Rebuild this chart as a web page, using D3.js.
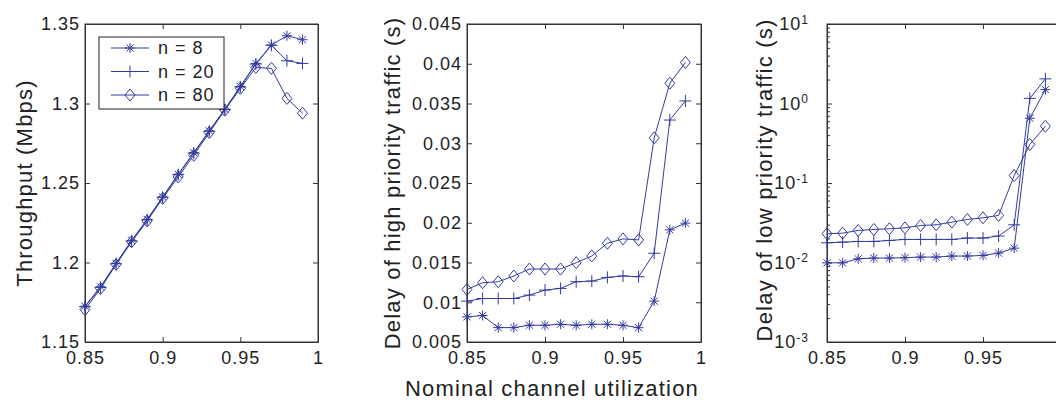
<!DOCTYPE html>
<html>
<head>
<meta charset="utf-8">
<script src="https://cdn.jsdelivr.net/npm/d3@7"></script>
<style>
  body { margin: 0; background: #fff; }
  svg { display: block; font-family: "Liberation Sans", Arial, sans-serif; }
  .tick text { fill: #222; font-size: 18px; letter-spacing: 1px; }
  .axis path, .axis line { stroke: #333; }
  .label { fill: #222; font-size: 22px; letter-spacing: 1.2px; }
</style>
</head>
<body>
<svg id="chart" width="1056" height="401"></svg>
<script>
'use strict';

// nominal channel utilization
var utilization = [0.85, 0.86, 0.87, 0.88, 0.89, 0.9, 0.91, 0.92, 0.93, 0.94, 0.95, 0.96, 0.97, 0.98, 0.99];
var seriesNames = ['n = 8', 'n = 20', 'n = 80'];

// throughput (Mbps)
var throughputN8  = [1.1725, 1.1847, 1.1994, 1.2139, 1.2271, 1.2412, 1.2555, 1.2691, 1.2828, 1.2964, 1.3107, 1.3252, 1.3368, 1.3426, 1.3401];
var throughputN20 = [1.1722, 1.1843, 1.1992, 1.2135, 1.2268, 1.2410, 1.2552, 1.2688, 1.2825, 1.2962, 1.3104, 1.3248, 1.3366, 1.3269, 1.3252];
var throughputN80 = [1.1704, 1.1836, 1.1987, 1.2130, 1.2261, 1.2403, 1.2538, 1.2674, 1.2817, 1.2958, 1.3095, 1.3227, 1.3221, 1.3032, 1.2939];

// delay of high priority traffic (s)
var highDelayN8  = [0.00816, 0.00833, 0.00681, 0.00681, 0.00711, 0.0071, 0.00723, 0.0071, 0.00723, 0.00723, 0.0071, 0.0068, 0.01014, 0.0191, 0.01995];
var highDelayN20 = [0.01014, 0.01047, 0.01047, 0.01047, 0.0109, 0.01153, 0.01174, 0.01258, 0.01266, 0.01313, 0.0133, 0.01321, 0.01616, 0.03292, 0.03532];
var highDelayN80 = [0.01161, 0.01245, 0.01258, 0.0133, 0.01418, 0.01418, 0.01418, 0.01498, 0.01582, 0.01742, 0.01797, 0.01784, 0.03068, 0.03755, 0.04016];

// delay of low priority traffic (s)
var lowDelayN8  = [0.0099, 0.0099, 0.01114, 0.01137, 0.01137, 0.0115, 0.0117, 0.0117, 0.01205, 0.01205, 0.01228, 0.01313, 0.01517, 0.653, 1.496];
var lowDelayN20 = [0.0177, 0.0180, 0.0184, 0.0184, 0.01895, 0.0195, 0.0195, 0.0195, 0.0195, 0.0203, 0.0203, 0.0215, 0.0298, 1.16, 2.04];
var lowDelayN80 = [0.0230, 0.0234, 0.0253, 0.0260, 0.0266, 0.0273, 0.0292, 0.0298, 0.0322, 0.0348, 0.0365, 0.0391, 0.124, 0.305, 0.518];

var xTicks = [0.85, 0.9, 0.95, 1];
var throughputTicks = [1.15, 1.2, 1.25, 1.3, 1.35];
var highDelayTicks = [0.005, 0.01, 0.015, 0.02, 0.025, 0.03, 0.035, 0.04, 0.045];
var lowDelayExponents = [-3, -2, -1, 0, 1];

var color = '#343b9f';
var markers = ['star', 'plus', 'diamond'];

var svg = d3.select('#chart');
var width = 1056;
var plotTop = 24, plotBottom = 342;

function markerPath(type) {
    if (type === 'star') {
        var d = 3.6;
        return 'M0,-5V5M-5,0H5M' + (-d) + ',' + (-d) + 'L' + d + ',' + d + 'M' + (-d) + ',' + d + 'L' + d + ',' + (-d);
    }
    if (type === 'plus') return 'M0,-6V6M-6,0H6';
    return 'M0,-6L5,0L0,6L-5,0Z';
}

function fmt(d) { return String(+d.toFixed(3)); }

function drawPanel(opts) {
    var x = d3.scaleLinear().domain([0.85, 1]).range([opts.left, opts.right]);
    var y = opts.log
        ? d3.scaleLog().domain([1e-3, 10]).range([plotBottom, plotTop])
        : d3.scaleLinear().domain(opts.domain).range([plotBottom, plotTop]);

    var g = svg.append('g');

    var xb = g.append('g').attr('class', 'axis')
        .attr('transform', 'translate(0,' + plotBottom + ')')
        .call(d3.axisBottom(x).tickValues(xTicks).tickFormat(fmt).tickSizeInner(-5).tickSizeOuter(0).tickPadding(9));
    // the right panel runs past the page edge; its last label is not shown
    xb.selectAll('.tick text').filter(function(d) { return x(d) + 6 > width; }).remove();
    g.append('g').attr('class', 'axis')
        .attr('transform', 'translate(0,' + plotTop + ')')
        .call(d3.axisTop(x).tickValues(xTicks).tickFormat('').tickSizeInner(-5).tickSizeOuter(0));

    var yTickVals = opts.log ? lowDelayExponents.map(function(e) { return Math.pow(10, e); }) : opts.ticks;
    var yl = g.append('g').attr('class', 'axis')
        .attr('transform', 'translate(' + opts.left + ',0)')
        .call(d3.axisLeft(y).tickValues(yTickVals).tickFormat(opts.log ? '' : fmt).tickSizeInner(-5).tickSizeOuter(0).tickPadding(5));
    g.append('g').attr('class', 'axis')
        .attr('transform', 'translate(' + opts.right + ',0)')
        .call(d3.axisRight(y).tickValues(yTickVals).tickFormat('').tickSizeInner(-5).tickSizeOuter(0));

    if (opts.log) {
        var minor = [];
        lowDelayExponents.slice(0, -1).forEach(function(e) {
            for (var k = 2; k < 10; k++) minor.push(k * Math.pow(10, e));
        });
        g.append('g').attr('class', 'axis')
            .attr('transform', 'translate(' + opts.left + ',0)')
            .call(d3.axisLeft(y).tickValues(minor).tickFormat('').tickSizeInner(-3).tickSizeOuter(0));
        g.append('g').attr('class', 'axis')
            .attr('transform', 'translate(' + opts.right + ',0)')
            .call(d3.axisRight(y).tickValues(minor).tickFormat('').tickSizeInner(-3).tickSizeOuter(0));
        yl.selectAll('.tick text').each(function(d) {
            var t = d3.select(this).attr('x', -18);
            t.append('tspan').text('10');
            t.append('tspan').attr('dy', '-0.55em').style('font-size', '12px').text(Math.round(Math.log10(d)));
        });
    }

    g.append('rect')
        .attr('x', opts.left).attr('y', plotTop)
        .attr('width', opts.right - opts.left).attr('height', plotBottom - plotTop)
        .attr('fill', 'none').attr('stroke', '#333');

    var line = d3.line()
        .x(function(d, i) { return x(utilization[i]); })
        .y(function(d) { return y(d); });

    opts.series.forEach(function(values, s) {
        g.append('path').datum(values)
            .attr('d', line)
            .attr('fill', 'none').attr('stroke', color).attr('stroke-width', 1);
        g.selectAll(null).data(values).enter().append('path')
            .attr('transform', function(d, i) { return 'translate(' + x(utilization[i]) + ',' + y(d) + ')'; })
            .attr('d', markerPath(markers[s]))
            .attr('fill', 'none').attr('stroke', color).attr('stroke-width', 1);
    });

    svg.append('text').attr('class', 'label')
        .attr('transform', 'translate(' + opts.labelX + ',' + opts.labelY + ') rotate(-90)')
        .attr('text-anchor', 'middle').attr('dy', '0.35em')
        .text(opts.label);

    return {x: x, y: y};
}

drawPanel({left: 85, right: 318, domain: [1.15, 1.35], ticks: throughputTicks,
    series: [throughputN8, throughputN20, throughputN80],
    label: 'Throughput (Mbps)', labelX: 24, labelY: 183});
drawPanel({left: 467, right: 701, domain: [0.005, 0.045], ticks: highDelayTicks,
    series: [highDelayN8, highDelayN20, highDelayN80],
    label: 'Delay of high priority traffic (s)', labelX: 392, labelY: 183});
drawPanel({left: 827, right: 1061, log: true,
    series: [lowDelayN8, lowDelayN20, lowDelayN80],
    label: 'Delay of low priority traffic (s)', labelX: 764, labelY: 180});

svg.append('text').attr('class', 'label')
    .attr('x', 552).attr('y', 396).attr('text-anchor', 'middle')
    .text('Nominal channel utilization');

// legend
var legend = svg.append('g').attr('transform', 'translate(99,37)');
legend.append('rect').attr('width', 125).attr('height', 72)
    .attr('fill', '#fff').attr('stroke', '#222');
seriesNames.forEach(function(name, s) {
    var row = legend.append('g').attr('transform', 'translate(0,' + (11 + s * 23.5) + ')');
    row.append('line').attr('x1', 12).attr('x2', 50)
        .attr('stroke', color);
    row.append('path').attr('transform', 'translate(31,0)')
        .attr('d', markerPath(markers[s]))
        .attr('fill', 'none').attr('stroke', color);
    row.append('text').attr('x', 59).attr('dy', '0.35em')
        .style('font-size', '18px').style('letter-spacing', '1px').attr('fill', '#222')
        .text(name);
});
</script>
</body>
</html>
